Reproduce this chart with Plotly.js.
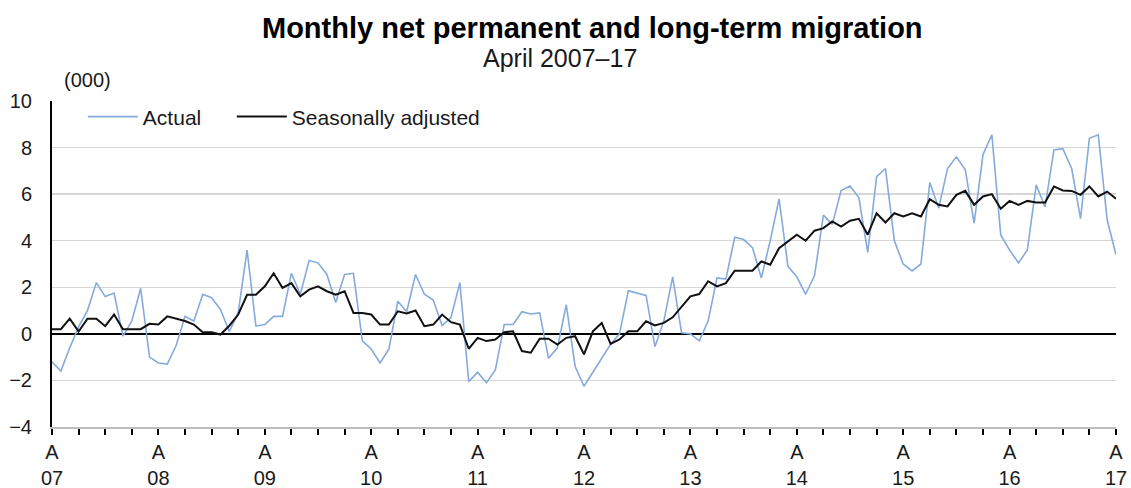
<!DOCTYPE html>
<html>
<head>
<meta charset="utf-8">
<script src="https://cdn.plot.ly/plotly-3.0.1.min.js"></script>
<style>
html,body{margin:0;padding:0;background:#fff;}
#chart{width:1131px;height:488px;}
</style>
</head>
<body>
<div id="chart"></div>
<script>
// Monthly values, April 2007 to April 2017 (thousands)
const actual = [
  -1.2, -1.6, -0.6, 0.3, 1.0, 2.2, 1.6, 1.75, -0.1, 0.55,
  1.95, -1.0, -1.25, -1.3, -0.5, 0.75, 0.55, 1.7, 1.55, 1.05,
  0.1, 0.9, 3.6, 0.33, 0.4, 0.75, 0.75, 2.6, 1.7, 3.15,
  3.05, 2.55, 1.35, 2.55, 2.6, -0.3, -0.65, -1.25, -0.65, 1.4,
  0.95, 2.55, 1.7, 1.45, 0.35, 0.7, 2.2, -2.05, -1.65, -2.1,
  -1.55, 0.4, 0.4, 0.95, 0.85, 0.9, -1.05, -0.6, 1.25, -1.4,
  -2.25, -1.65, -1.1, -0.45, 0.0, 1.85, 1.75, 1.65, -0.55, 0.55,
  2.45, 0.05, 0.0, -0.3, 0.55, 2.4, 2.35, 4.15, 4.05, 3.7,
  2.4, 4.0, 5.8, 2.9, 2.45, 1.7, 2.5, 5.1, 4.7, 6.15,
  6.35, 5.85, 3.5, 6.75, 7.1, 4.0, 3.0, 2.7, 3.0, 6.5,
  5.4, 7.1, 7.6, 7.05, 4.75, 7.7, 8.55, 4.25, 3.6, 3.05,
  3.6, 6.4, 5.45, 7.9, 7.95, 7.1, 4.95, 8.4, 8.55, 4.9,
  3.4
];
const seasonallyAdjusted = [
  0.2, 0.2, 0.65, 0.1, 0.65, 0.65, 0.33, 0.83, 0.2, 0.2,
  0.2, 0.43, 0.4, 0.75, 0.65, 0.55, 0.4, 0.07, 0.07, -0.03,
  0.35, 0.83, 1.68, 1.68, 2.04, 2.6, 1.97, 2.18, 1.61, 1.9,
  2.04, 1.83, 1.68, 1.83, 0.9, 0.9, 0.83, 0.4, 0.4, 0.97,
  0.88, 1.0, 0.33, 0.4, 0.83, 0.5, 0.4, -0.64, -0.17, -0.31,
  -0.24, 0.07, 0.11, -0.74, -0.81, -0.21, -0.21, -0.46, -0.17, -0.1,
  -0.88, 0.11, 0.47, -0.43, -0.24, 0.11, 0.11, 0.54, 0.36, 0.47,
  0.71, 1.18, 1.61, 1.71, 2.26, 2.04, 2.18, 2.71, 2.71, 2.71,
  3.11, 2.97, 3.68, 3.97, 4.26, 4.0, 4.43, 4.54, 4.83, 4.61,
  4.86, 4.94, 4.26, 5.18, 4.78, 5.18, 5.04, 5.18, 5.04, 5.78,
  5.54, 5.47, 5.97, 6.14, 5.54, 5.9, 6.0, 5.37, 5.71, 5.54,
  5.71, 5.64, 5.64, 6.33, 6.16, 6.14, 5.97, 6.33, 5.9, 6.11,
  5.8
];
const tickYears = ['07','08','09','10','11','12','13','14','15','16','17'];
const tickMonthLetter = 'A';

const monthIndex = actual.map((_, i) => i);
const tickVals = tickYears.map((_, k) => k * 12);
const tickText = tickYears.map(y => tickMonthLetter + '<br>' + y);

const FONT = '"Liberation Sans", Arial, sans-serif';
const TXT = '#1a1a1a';

const traces = [
  {
    x: monthIndex, y: actual, name: 'Actual', type: 'scatter', mode: 'lines',
    line: {color: '#84abdb', width: 1.6}, legend: 'legend'
  },
  {
    x: monthIndex, y: seasonallyAdjusted, name: 'Seasonally adjusted', type: 'scatter', mode: 'lines',
    line: {color: '#111111', width: 2}, legend: 'legend2'
  }
];

const legendBase = {
  orientation: 'h', y: 0.951, xanchor: 'left', yanchor: 'middle',
  bgcolor: 'rgba(0,0,0,0)', font: {family: FONT, size: 21, color: TXT},
  itemwidth: 50
};

const layout = {
  width: 1131, height: 488,
  margin: {l: 52, r: 15, t: 101, b: 61, pad: 0},
  paper_bgcolor: '#fff', plot_bgcolor: '#fff',
  font: {family: FONT, size: 20, color: TXT},
  showlegend: true,
  legend: Object.assign({}, legendBase, {x: 0.029}),
  legend2: Object.assign({}, legendBase, {x: 0.169}),
  xaxis: {
    range: [0, 120], tickmode: 'array', tickvals: tickVals, ticktext: tickText,
    ticks: 'outside', ticklen: 6, tickwidth: 2, tickcolor: '#000',
    minor: {tickmode: 'linear', tick0: 0, dtick: 3, ticks: 'outside', ticklen: 6, tickwidth: 2, tickcolor: '#000', showgrid: false},
    showgrid: false, zeroline: false, showline: true, linecolor: '#bdbdbd', linewidth: 1.5,
    tickfont: {family: FONT, size: 20, color: TXT}, fixedrange: true
  },
  yaxis: {
    range: [-4, 10], tickmode: 'linear', tick0: -4, dtick: 2,
    ticks: '', ticklabelstandoff: 14,
    showgrid: true, gridcolor: '#d6d6d6', gridwidth: 1.5,
    zeroline: true, zerolinecolor: '#000', zerolinewidth: 2,
    showline: true, linecolor: '#000', linewidth: 2,
    tickfont: {family: FONT, size: 20, color: TXT}, fixedrange: true
  },
  annotations: [
    {text: '<b>Monthly net permanent and long-term migration</b>', xref: 'paper', yref: 'paper',
     x: 0.508, y: 1.224, xanchor: 'center', yanchor: 'middle', showarrow: false,
     font: {family: FONT, size: 29, color: '#000'}},
    {text: 'April 2007\u201317', xref: 'paper', yref: 'paper',
     x: 0.477, y: 1.132, xanchor: 'center', yanchor: 'middle', showarrow: false,
     font: {family: FONT, size: 25, color: TXT}},
    {text: '(000)', xref: 'paper', yref: 'paper',
     x: 0.0095, y: 1.064, xanchor: 'left', yanchor: 'middle', showarrow: false,
     font: {family: FONT, size: 20, color: TXT}}
  ]
};

Plotly.newPlot('chart', traces, layout, {displayModeBar: false, staticPlot: true});
</script>
</body>
</html>
